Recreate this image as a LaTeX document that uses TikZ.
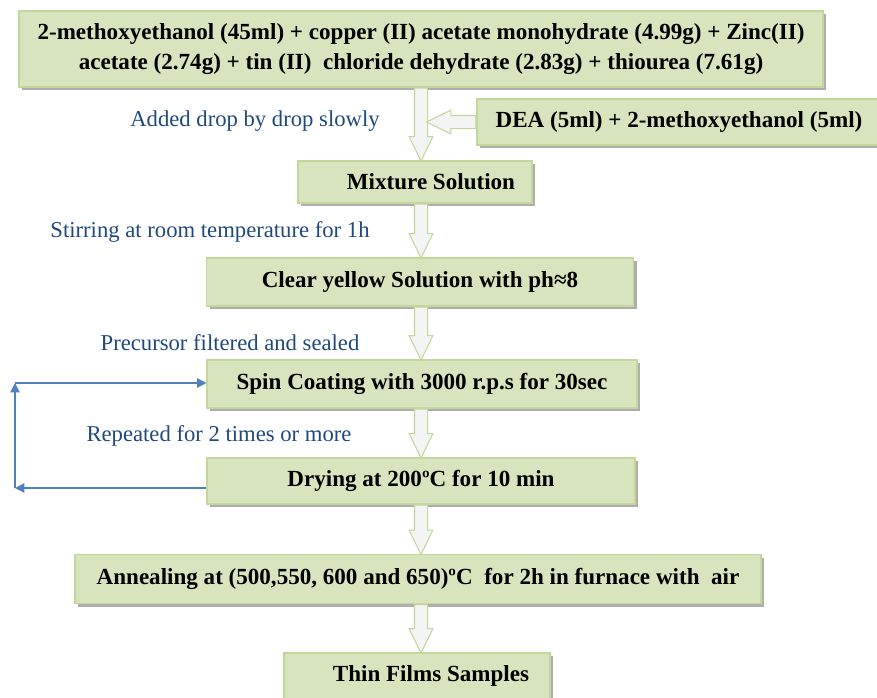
\documentclass[tikz,border=0pt]{standalone}
\usepackage{fontspec}
\setmainfont{Liberation Serif}
\usetikzlibrary{shapes.arrows,shadows,calc,arrows.meta}
\definecolor{boxfill}{HTML}{D7E4BD}
\definecolor{boxline}{HTML}{C3D69B}
\definecolor{arrowfill}{HTML}{F4F4F4}
\definecolor{labelblue}{HTML}{1F497D}
\definecolor{loopblue}{HTML}{4F81BD}
\begin{document}
\begin{tikzpicture}[x=0.75pt,y=-0.75pt,
  stepbox/.style={draw=boxline,line width=0.8pt,fill=boxfill,inner sep=0pt,
    font=\bfseries\fontsize{17.3}{22}\selectfont,
    drop shadow={shadow xshift=2.5pt,shadow yshift=-2.5pt,fill=black!45,opacity=0.7}},
  fatarrow/.style={single arrow,draw=boxline,line width=0.8pt,fill=arrowfill,
    inner sep=0pt,text height=4.5pt,text depth=4.5pt,
    single arrow head extend=4pt,single arrow tip angle=52},
  note/.style={text=labelblue,font=\fontsize{17}{20}\selectfont},
  loopline/.style={draw=loopblue,line width=0.9pt,-{Triangle[length=7pt,width=7pt]}}]
  \useasboundingbox (0,0) rectangle (877,697);
  \node[stepbox,minimum width=603pt,minimum height=57pt,align=center] (top) at (421,49)
    {2-methoxyethanol (45ml) + copper (II) acetate monohydrate (4.99g) + Zinc(II)\\
     acetate (2.74g) + tin (II)\ \ chloride dehydrate (2.83g) + thiourea (7.61g)};
  \node[stepbox,minimum width=303pt,minimum height=34.5pt] (dea) at (679,122) {DEA (5ml) + 2-methoxyethanol (5ml)};
  \node[stepbox,minimum width=175.5pt,minimum height=31.5pt] (mix) at (415,182) {\hspace*{24pt}Mixture Solution};
  \node[stepbox,minimum width=320pt,minimum height=36pt] (clear) at (420,282) {Clear yellow Solution with ph≈8};
  \node[stepbox,minimum width=322.5pt,minimum height=36pt] (spin) at (422,384) {Spin Coating with 3000 r.p.s for 30sec};
  \node[stepbox,minimum width=321pt,minimum height=34.5pt] (dry) at (421,481) {Drying at 200ºC for 10 min};
  \node[stepbox,minimum width=514.5pt,minimum height=36.75pt] (ann) at (418,579) {Annealing at (500,550, 600 and 650)ºC\ \ for 2h in furnace with\ \ air};
  \node[stepbox,minimum width=199.5pt,minimum height=34.5pt] (thin) at (417,676) {\hspace*{21pt}Thin Films Samples};

  \foreach \a/\b in {top/mix,mix/clear,clear/spin,spin/dry,dry/ann,ann/thin} {
    \path let \p1=(\a.south -| top.south), \p2=(\b.north), \n1={\y1-\y2} in
      node[fatarrow,minimum height=\n1,rotate=-90,anchor=tail] at (\p1) {};
  }
  \coordinate (join) at (427,124);
  \path let \p1=(dea.west), \p2=(join), \n1={\x1-\x2} in
    node[fatarrow,minimum height=\n1,rotate=180,anchor=tail] at (\p1) {};

  \node[note] (added) at (255,121) {Added drop by drop slowly};
  \node[note] (stir) at (210,232) {Stirring at room temperature for 1h};
  \node[note] (filt) at (230,343) {Precursor filtered and sealed};
  \node[note] (rep) at (219,436) {Repeated for 2 times or more};

  \coordinate (lb) at (15,488);
  \coordinate (lt) at (15,383);
  \draw[loopline] ([yshift=-5.25pt]dry.west) -- (lb);
  \draw[loopline] (lb) -- (lt);
  \draw[loopline] (lt) -- (spin.west |- lt);
\end{tikzpicture}
\end{document}
